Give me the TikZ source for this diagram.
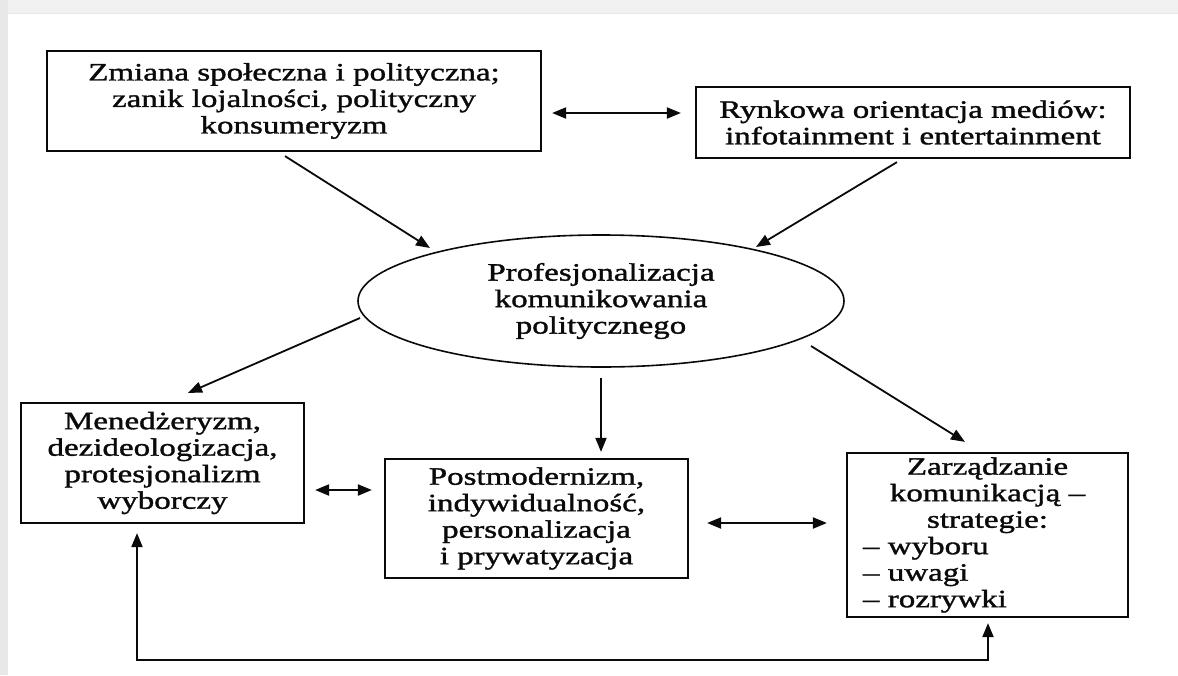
\documentclass[tikz,border=0pt]{standalone}
\usepackage{fontspec}
\setmainfont{Liberation Serif}[FakeStretch=1.32,FakeBold=1.4]
\usetikzlibrary{arrows.meta,shapes.geometric}
\definecolor{bandgray}{RGB}{241,241,241}
\definecolor{edgegray}{RGB}{232,232,232}
\definecolor{inkblack}{RGB}{10,10,10}
\newcommand\diagfont{\fontsize{25}{26.5}\selectfont}
\begin{document}
\begin{tikzpicture}[x=1pt,y=-1pt,
  box/.style={draw=inkblack, line width=2.2pt, inner sep=0pt, align=center, font=\diagfont, text=inkblack},
  oval/.style={draw=inkblack, ellipse, line width=1.6pt, inner sep=0pt, align=center, font=\diagfont, text=inkblack},
  tipshape/.tip={Triangle[length=14pt,width=11pt]},
  arr/.style={draw=inkblack, line width=1.8pt, -tipshape},
  darr/.style={draw=inkblack, line width=2pt, tipshape-tipshape}]
\useasboundingbox (0,0) rectangle (1178,675);
\fill[white] (0,0) rectangle (1178,675);
\fill[bandgray] (0,0) rectangle (1178,13);
\draw[edgegray, line width=1pt] (8,13.5) -- (1178,13.5);
\fill[edgegray] (0,0) rectangle (8,675);

\node[box, minimum width=494pt, minimum height=100pt] (b1) at (294,101)
  {Zmiana społeczna i polityczna;\\zanik lojalności, polityczny\\konsumeryzm};
\node[box, minimum width=434pt, minimum height=71pt] (b2) at (913,122.5)
  {Rynkowa orientacja mediów:\\infotainment i entertainment};
\node[oval, minimum width=486pt, minimum height=132pt] (e) at (601,301)
  {Profesjonalizacja\\komunikowania\\politycznego};
\node[box, minimum width=283pt, minimum height=120pt] (b3) at (162.5,463)
  {Menedżeryzm,\\dezideologizacja,\\protesjonalizm\\wyborczy};
\node[box, minimum width=303pt, minimum height=119pt] (b4) at (536.5,518.5)
  {Postmodernizm,\\indywidualność,\\personalizacja\\i prywatyzacja};
\node[box, minimum width=281pt, minimum height=164pt, text width=249pt, align=left] (b5) at (987.5,535)
  {\makebox[\hsize]{Zarządzanie}\\\makebox[\hsize]{komunikacją –}\\\makebox[\hsize]{strategie:}\\– wyboru\\– uwagi\\– rozrywki};

\draw[arr] ([shift={(-9,4)}]b1.south) -- ([shift={(-171,-53)}]e.center);
\draw[arr] ([shift={(-16,3)}]b2.south) -- ([shift={(155,-54)}]e.center);
\draw[arr] ([shift={(-241,17)}]e.center) -- ([shift={(25.5,-9)}]b3.north);
\draw[arr] ([shift={(0,10)}]e.south) -- ([shift={(64.5,-6)}]b4.north);
\draw[arr] ([shift={(210,45)}]e.center) -- ([shift={(-22.5,-10)}]b5.north);

\draw[darr] ([shift={(10,12)}]b1.east) -- ([shift={(-14,-9.5)}]b2.west);
\draw[darr] ([shift={(10,27)}]b3.east) -- ([shift={(-12,-28.5)}]b4.west);
\draw[darr] ([shift={(18,4.5)}]b4.east) -- ([shift={(-19,-12)}]b5.west);

\coordinate (lowL) at (137,660);
\coordinate (lowR) at (988,660);
\draw[darr] ([shift={(-25.5,9)}]b3.south) -- (lowL) -- (lowR) -- ([shift={(0.5,5)}]b5.south);
\end{tikzpicture}
\end{document}
